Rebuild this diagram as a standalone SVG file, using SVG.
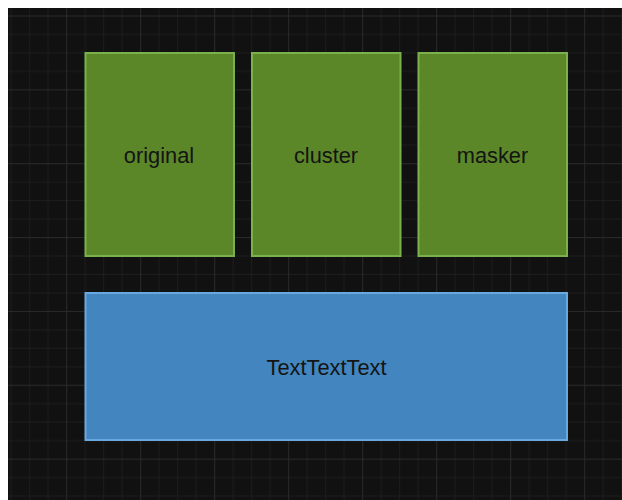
<svg xmlns="http://www.w3.org/2000/svg" width="622" height="500" viewBox="0 0 622 500">
  <defs>
    <pattern id="grid" patternUnits="userSpaceOnUse" x="66.2" y="15.5" width="74" height="73.85">
      <g fill="#1d1d1d">
        <rect x="18.5" y="0" width="1" height="73.85"/>
        <rect x="37" y="0" width="1" height="73.85"/>
        <rect x="55.5" y="0" width="1" height="73.85"/>
        <rect x="0" y="18.46" width="74" height="1"/>
        <rect x="0" y="36.92" width="74" height="1"/>
        <rect x="0" y="55.39" width="74" height="1"/>
      </g>
      <g fill="#2a2a2a">
        <rect x="0" y="0" width="1" height="73.85"/>
        <rect x="0" y="0" width="74" height="1"/>
      </g>
    </pattern>
    <style>
      .green { fill: #5b8729; stroke: #7ab14c; stroke-width: 2; }
      .blue { fill: #4386bf; stroke: #6aa8e0; stroke-width: 2; }
      .label { font-family: "Liberation Sans", Arial, sans-serif; font-size: 21.8px; fill: #141414; text-anchor: middle; }
    </style>
  </defs>
  <rect x="0" y="0" width="622" height="500" fill="#ffffff"/>
  <rect x="8" y="8" width="614" height="492" fill="#111111"/>
  <rect x="8" y="8" width="614" height="492" fill="url(#grid)"/>

  <g id="node-original">
    <rect class="green" x="85.5" y="53" width="148.5" height="203"/>
    <text class="label" x="159" y="162.5">original</text>
  </g>
  <g id="node-cluster">
    <rect class="green" x="252" y="53" width="148.5" height="203"/>
    <text class="label" x="326" y="162.5">cluster</text>
  </g>
  <g id="node-masker">
    <rect class="green" x="418.5" y="53" width="148.5" height="203"/>
    <text class="label" x="492.5" y="162.5">masker</text>
  </g>
  <g id="node-text">
    <rect class="blue" x="85.5" y="293" width="481.5" height="147"/>
    <text class="label" x="326.5" y="375">TextTextText</text>
  </g>
  <g id="connectors"></g>
</svg>
